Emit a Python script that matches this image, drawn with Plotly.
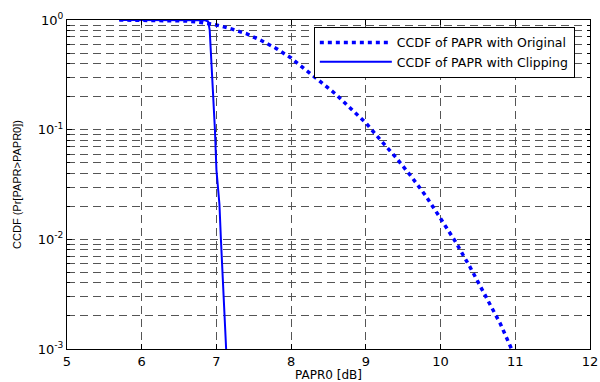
import plotly.graph_objects as go

# Original (no clipping) CCDF
orig_x = [5.7, 6.0, 6.3, 6.6, 6.8, 7.0, 7.2, 7.4, 7.6, 7.8, 8.0, 8.2, 8.4, 8.6, 8.8,
          9.0, 9.2, 9.4, 9.6, 9.8, 10.0, 10.2, 10.4, 10.6, 10.8, 10.95]
orig_y = [1.0, 0.999, 0.995, 0.98, 0.95, 0.90, 0.83, 0.75, 0.65, 0.55, 0.45, 0.35,
          0.275, 0.21, 0.155, 0.115, 0.08, 0.056, 0.038, 0.025, 0.0155, 0.0095,
          0.0055, 0.003, 0.0017, 0.001]

# Clipped CCDF
clip_x = [5.7, 6.0, 6.5, 6.85, 6.89, 6.91, 6.94, 6.96, 6.98, 7.0, 7.04, 7.06, 7.08, 7.10, 7.13]
clip_y = [1.0, 1.0, 1.0, 0.995, 0.97, 0.81, 0.33, 0.2, 0.1, 0.043, 0.021, 0.01, 0.0053, 0.003, 0.001]

x_ticks = [5, 6, 7, 8, 9, 10, 11, 12]
y_tickvals = [1e-3, 1e-2, 1e-1, 1]
y_ticktext = ["10<sup>-3</sup>", "10<sup>-2</sup>", "10<sup>-1</sup>", "10<sup>0</sup>"]

FONT = "DejaVu Sans"
GRID = "#555555"

fig = go.Figure()
fig.add_trace(go.Scatter(x=orig_x, y=orig_y, mode="lines",
                         name="CCDF of PAPR with Original",
                         line=dict(color="#0000FF", width=3.5, dash="4px,4px")))
fig.add_trace(go.Scatter(x=clip_x, y=clip_y, mode="lines",
                         name="CCDF of PAPR with Clipping",
                         line=dict(color="#0000FF", width=2)))

fig.update_layout(
    width=600, height=382,
    margin=dict(l=67, r=10, t=20, b=33),
    paper_bgcolor="white", plot_bgcolor="white",
    font=dict(family=FONT, size=13, color="black"),
    legend=dict(x=0.971, y=0.979, xanchor="right", yanchor="top",
                bgcolor="white", bordercolor="black", borderwidth=1,
                font=dict(family=FONT, size=12.5), tracegroupgap=0,
                itemwidth=72),
)
fig.update_xaxes(
    range=[5, 12], tickvals=x_ticks, ticktext=[str(v) for v in x_ticks],
    automargin=False,
    showline=True, linecolor="black", linewidth=1, mirror="ticks",
    ticks="inside", ticklen=5, tickcolor="black",
    showgrid=True, gridcolor=GRID, griddash="8px,5px", gridwidth=1,
    zeroline=False,
    title=dict(text="PAPR0 [dB]", font=dict(family=FONT, size=12), standoff=0),
)
fig.update_yaxes(
    type="log", range=[-3, 0], tickvals=y_tickvals, ticktext=y_ticktext,
    automargin=False,
    showline=True, linecolor="black", linewidth=1, mirror="ticks",
    ticks="inside", ticklen=5, tickcolor="black",
    showgrid=True, gridcolor=GRID, griddash="8px,5px", gridwidth=1,
    minor=dict(dtick="D1", showgrid=True, gridcolor=GRID, griddash="8px,5px",
               ticks="inside", ticklen=3, tickcolor="black"),
    zeroline=False,
    title=dict(text="CCDF (Pr[PAPR>PAPR0])", font=dict(family="Liberation Sans", size=11), standoff=13),
)

fig.write_html("out.html", config={"displayModeBar": False},
               post_script="document.body.style.margin='0';document.body.style.overflow='hidden';")
